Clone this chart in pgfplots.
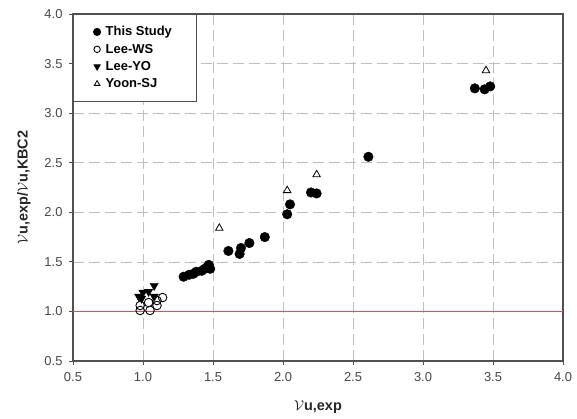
\documentclass[border=0pt]{standalone}
\usepackage{fontspec}
\setmainfont{Liberation Sans}
\usepackage{pgfplots}
\pgfplotsset{compat=1.18}

\definecolor{gridgray}{RGB}{190,190,190}
\definecolor{framegray}{RGB}{80,80,80}
\definecolor{ticktext}{RGB}{70,70,70}
\definecolor{refred}{RGB}{225,80,80}

\newcommand{\vsym}{$\mathcal{V}$}

\begin{document}
\begin{tikzpicture}[x=1bp,y=1bp]
\useasboundingbox (-73,-57) rectangle (504,361);
\begin{axis}[
  at={(0,0)}, anchor=south west,
  scale only axis,
  width=490bp, height=347bp,
  xmin=0.5, xmax=4.0, ymin=0.5, ymax=4.0,
  xtick={0.5,1.0,...,4.0},
  ytick={0.5,1.0,...,4.0},
  /pgf/number format/.cd, fixed, fixed zerofill, precision=1, assume math mode=true,
  /pgfplots/.cd,
  tick label style={font=\fontsize{13}{15}\selectfont, text=ticktext},
  xticklabel style={yshift=-4bp},
  yticklabel style={xshift=-3bp},
  tick align=outside,
  tick style={framegray, line width=0.8pt},
  major tick length=4bp,
  xtick pos=bottom, ytick pos=left,
  axis line style={framegray, line width=1.2pt},
  grid=major,
  major grid style={gridgray, dash pattern=on 11bp off 5bp, line width=0.7pt},
  xlabel={\vsym\textbf{u,exp}},
  ylabel={\vsym\textbf{u,exp/}\vsym\textbf{u,KBC2}},
  label style={font=\fontsize{14.5}{16}\selectfont, text=black!85},
  xlabel style={at={(axis description cs:0.5,-0.133)}, anchor=center},
  ylabel style={at={(axis description cs:-0.100,0.5)}, anchor=center},
  legend cell align=left,
  legend style={at={(0,1)}, anchor=north west, draw=framegray, line width=1pt,
    font=\bfseries\fontsize{13}{15}\selectfont, inner xsep=20bp, inner ysep=10bp,
    row sep=2.7bp, fill=white,
    nodes={inner xsep=5bp}},
  legend image post style={scale=0.75},
  legend image code/.code={\draw[#1, line width=0.8pt] plot coordinates {(0.2cm,0cm)};},
]

% reference line at ratio 1.0
\addplot[color=refred, line width=1.2pt, mark=none, forget plot] coordinates {(0.5,1.0) (4.0,1.0)};

% This Study
\addplot[only marks, mark=*, mark size=4.8bp, black] coordinates {
  (1.29,1.35) (1.33,1.37) (1.36,1.38) (1.38,1.40) (1.42,1.41) (1.44,1.43)
  (1.46,1.45) (1.47,1.47) (1.48,1.43)
  (1.61,1.61) (1.69,1.58) (1.70,1.64) (1.76,1.69) (1.87,1.75)
  (2.03,1.98) (2.05,2.08) (2.20,2.20) (2.24,2.19) (2.61,2.56)
  (3.37,3.25) (3.44,3.24) (3.48,3.27)
};
\addlegendentry{This Study}

% Lee-WS
\addplot[only marks, mark=o, mark size=4.3bp, black, mark options={line width=0.9pt, fill=white}] coordinates {
  (0.98,1.06) (0.98,1.01) (1.05,1.01) (1.04,1.09) (1.10,1.06) (1.14,1.14) (1.10,1.11)
};
\addlegendentry{Lee-WS}

% Lee-YO
\addplot[only marks, mark=triangle*, mark size=4.8bp, black, mark options={rotate=180}] coordinates {
  (0.97,1.15) (1.00,1.19) (1.04,1.20) (1.08,1.26) (1.08,1.15) (0.99,1.13)
};
\addlegendentry{Lee-YO}

% Yoon-SJ
\addplot[only marks, mark=triangle, mark size=4.3bp, black, mark options={line width=0.8pt}] coordinates {
  (1.545,1.84) (2.03,2.22) (2.24,2.38) (3.45,3.43)
};
\addlegendentry{Yoon-SJ}

\end{axis}
\end{tikzpicture}
\end{document}
